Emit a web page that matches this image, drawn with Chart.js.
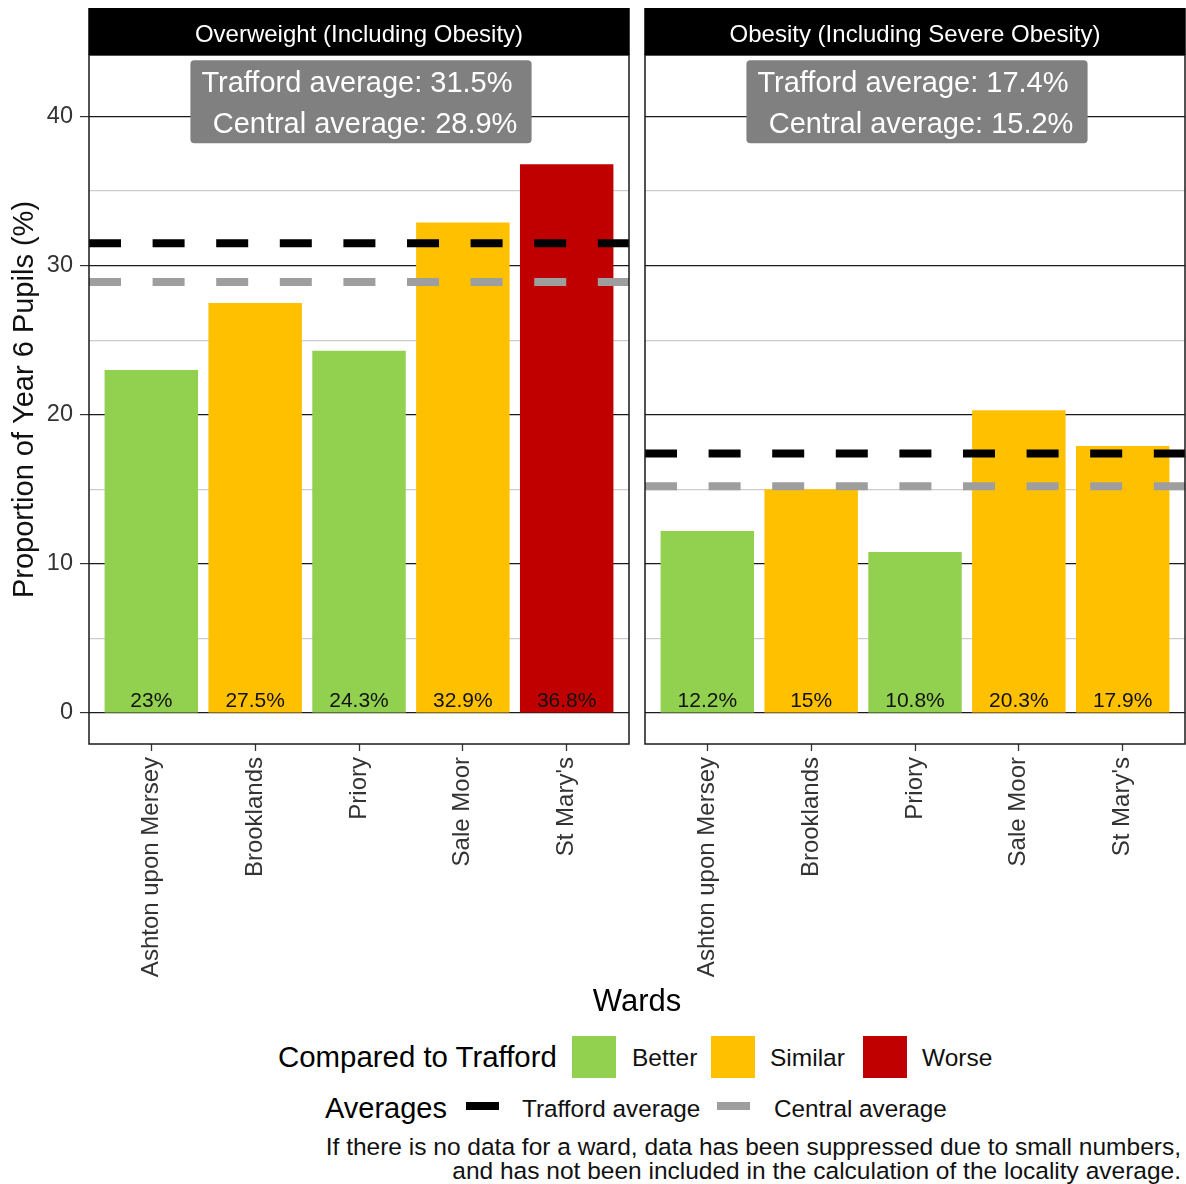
<!DOCTYPE html>
<html><head><meta charset="utf-8">
<script src="https://cdn.jsdelivr.net/npm/chart.js@4.4.1/dist/chart.umd.min.js"></script>
<style>
html,body{margin:0;padding:0;background:#fff;}
body{width:1186px;height:1184px;position:relative;overflow:hidden;font-family:"Liberation Sans",Arial,sans-serif;}
canvas{position:absolute;top:0;}
#c1{left:0;} #c2{left:640px;}
.t{position:absolute;white-space:nowrap;color:#111;line-height:1;}
.key{position:absolute;}
</style></head><body>
<canvas id="c1" width="640" height="990"></canvas>
<canvas id="c2" width="546" height="990"></canvas>
<div id="legend"></div>
<script>
// ---- data ----
const wards = ['Ashton upon Mersey', 'Brooklands', 'Priory', 'Sale Moor', "St Mary's"];
const overweightValues = [23, 27.5, 24.3, 32.9, 36.8];
const overweightStatus = ['Better', 'Similar', 'Better', 'Similar', 'Worse'];
const obesityValues = [12.2, 15, 10.8, 20.3, 17.9];
const obesityStatus = ['Better', 'Similar', 'Better', 'Similar', 'Similar'];
const panelTitles = ['Overweight (Including Obesity)', 'Obesity (Including Severe Obesity)'];
const traffordAverages = [31.5, 17.4];
const centralAverages = [28.9, 15.2];
const yTicks = [0, 5, 10, 15, 20, 25, 30, 35, 40];
const yLabelTicks = [0, 10, 20, 30, 40];
const statusLevels = ['Better', 'Similar', 'Worse'];
const statusColors = {Better: '#92D050', Similar: '#FFC000', Worse: '#C00000'};
const averageNames = ['Trafford average', 'Central average'];
const averageColors = ['#000000', '#9E9E9E'];
const yMin = -2.08, yMax = 44.13;
const annotationX = 2, annotationY = 41;

const FONT = '"Liberation Sans", Arial, sans-serif';

function panelPlugin(idx, values) {
  return {
    id: 'panel' + idx,
    afterDatasetsDraw(chart) {
      const ctx = chart.ctx, ca = chart.chartArea;
      const xs = chart.scales.x, ys = chart.scales.y;
      // bar value labels
      const meta = chart.getDatasetMeta(0);
      const y0 = ys.getPixelForValue(0);
      ctx.save();
      ctx.font = '21px ' + FONT;
      ctx.fillStyle = '#111';
      ctx.textAlign = 'center';
      ctx.textBaseline = 'alphabetic';
      meta.data.forEach((bar, i) => {
        ctx.fillText(values[i] + '%', bar.x, y0 - 6);
      });
      ctx.restore();
      // average lines
      ctx.save();
      ctx.beginPath(); ctx.rect(ca.left, ca.top, ca.width, ca.height); ctx.clip();
      ctx.setLineDash([32, 31.6]);
      ctx.lineWidth = 8; ctx.lineCap = 'butt';
      [traffordAverages[idx], centralAverages[idx]].forEach((v, k) => {
        const y = ys.getPixelForValue(v);
        ctx.strokeStyle = averageColors[k];
        ctx.beginPath(); ctx.moveTo(ca.left, y); ctx.lineTo(ca.right, y); ctx.stroke();
      });
      ctx.restore();
      // annotation label
      ctx.save();
      ctx.font = '29px ' + FONT;
      const lines = ['Trafford average: ' + traffordAverages[idx] + '% ', ' Central average: ' + centralAverages[idx] + '%'];
      const w = Math.max(...lines.map(l => ctx.measureText(l).width)) + 22;
      const h = 83;
      const cx = xs.getPixelForValue(annotationX) + 2, cy = ys.getPixelForValue(annotationY);
      ctx.fillStyle = '#808080';
      ctx.beginPath();
      if (ctx.roundRect) ctx.roundRect(cx - w / 2, cy - h / 2, w, h, 4); else ctx.rect(cx - w / 2, cy - h / 2, w, h);
      ctx.fill();
      ctx.fillStyle = '#fff';
      ctx.textAlign = 'center'; ctx.textBaseline = 'middle';
      ctx.fillText(lines[0], cx, cy - 20.5 + 3);
      ctx.fillText(lines[1], cx, cy + 20.5 + 3);
      ctx.restore();
    },
    afterDraw(chart) {
      const ctx = chart.ctx, ca = chart.chartArea;
      ctx.save();
      ctx.strokeStyle = '#1a1a1a'; ctx.lineWidth = 1.5;
      ctx.strokeRect(ca.left, ca.top, ca.width, ca.height);
      ctx.fillStyle = '#000';
      ctx.fillRect(ca.left - 0.75, 8, ca.width + 1.5, ca.top - 8);
      ctx.fillStyle = '#fff';
      ctx.font = '24px ' + FONT;
      ctx.textAlign = 'center'; ctx.textBaseline = 'middle';
      ctx.fillText(panelTitles[idx], (ca.left + ca.right) / 2, 35);
      ctx.restore();
    }
  };
}

function makeChart(id, idx, values, status, showY) {
  return new Chart(document.getElementById(id), {
    type: 'bar',
    data: {
      datasets: [{
        data: values.map((v, i) => ({x: i, y: v})),
        backgroundColor: status.map(s => statusColors[s]),
        borderWidth: 0,
        barPercentage: 0.9,
        categoryPercentage: 1
      }]
    },
    options: {
      responsive: false, animation: false, devicePixelRatio: 1,
      layout: {padding: {top: 55, left: 0, right: showY ? 11 : 1, bottom: 0}},
      plugins: {legend: {display: false}, tooltip: {enabled: false}, title: {display: false}},
      scales: {
        x: {
          type: 'linear', min: -0.6, max: 4.6, offset: false,
          afterBuildTicks: s => { s.ticks = wards.map((w, i) => ({value: i})); },
          ticks: {autoSkip: false, minRotation: 90, maxRotation: 90, padding: 6, color: '#333',
                  font: {family: FONT, size: 24}, callback: v => wards[v]},
          grid: {display: true, offset: false, drawOnChartArea: false, drawTicks: true, tickLength: 7, tickColor: '#333', tickWidth: 1.3},
          border: {display: false},
          afterFit: s => { s.height = 246; s.paddingLeft = 0; s.paddingRight = 0; }
        },
        y: {
          min: yMin, max: yMax,
          afterBuildTicks: s => { s.ticks = yTicks.map(v => ({value: v})); },
          ticks: {display: showY, padding: 7, color: '#333', font: {family: FONT, size: 23.5},
                  callback: v => yLabelTicks.includes(v) ? String(v) : ''},
          grid: {
            color: c => (c.tick && yLabelTicks.includes(c.tick.value)) ? '#1a1a1a' : '#cccccc',
            lineWidth: c => (c.tick && yLabelTicks.includes(c.tick.value)) ? 1.2 : 1.3,
            drawTicks: showY, tickLength: 9,
            tickColor: c => (c.tick && yLabelTicks.includes(c.tick.value)) ? '#333' : 'rgba(0,0,0,0)'
          },
          border: {display: false},
          title: {display: showY, text: 'Proportion of Year 6 Pupils (%)', color: '#111',
                  font: {family: FONT, size: 29}, padding: {top: 8, bottom: 0}},
          afterFit: s => { s.width = showY ? 89 : 5; s.paddingTop = 0; s.paddingBottom = 0; }
        }
      }
    },
    plugins: [panelPlugin(idx, values)]
  });
}

makeChart('c1', 0, overweightValues, overweightStatus, true);
makeChart('c2', 1, obesityValues, obesityStatus, false);

// ---- HTML legend / titles ----
const L = document.getElementById('legend');
function txt(s, left, cy, size, extra) {
  const d = document.createElement('div');
  d.className = 't'; d.textContent = s;
  d.style.left = left + 'px'; d.style.top = (cy - size / 2) + 'px'; d.style.fontSize = size + 'px';
  if (extra) Object.assign(d.style, extra);
  L.appendChild(d); return d;
}
function key(left, top, w, h, color) {
  const d = document.createElement('div');
  d.className = 'key';
  Object.assign(d.style, {left: left + 'px', top: top + 'px', width: w + 'px', height: h + 'px', background: color});
  L.appendChild(d);
}
txt('Wards', 537, 1000, 31, {width: '200px', textAlign: 'center', color: '#000'});
txt('Compared to Trafford', 278, 1057, 29.4, {color: '#000'});
const keyLefts = [572, 711, 863], labelLefts = [632, 770, 922];
statusLevels.forEach((s, i) => {
  key(keyLefts[i], 1036, 44, 42, statusColors[s]);
  txt(s, labelLefts[i], 1058, 24.5);
});
txt('Averages', 325, 1108, 29, {color: '#000'});
const avgKeyLefts = [466, 717], avgLabelLefts = [522, 774];
averageNames.forEach((n, i) => {
  key(avgKeyLefts[i], 1102, 33, 8, averageColors[i]);
  txt(n, avgLabelLefts[i], 1109, 24.3);
});
const fn = document.createElement('div');
fn.className = 't';
Object.assign(fn.style, {right: '5px', top: '1135px', fontSize: '24.5px', lineHeight: '24px', textAlign: 'right'});
fn.innerHTML = 'If there is no data for a ward, data has been suppressed due to small numbers,<br>and has not been included in the calculation of the locality average.';
L.appendChild(fn);
</script>
</body></html>
